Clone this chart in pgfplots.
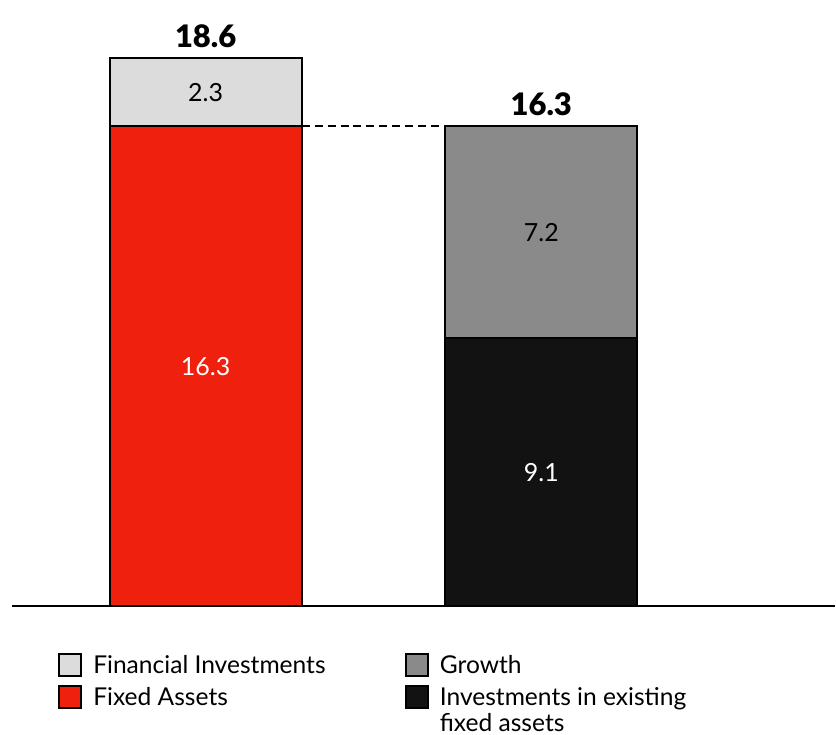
\documentclass[border=0pt]{standalone}
\usepackage{fontspec}
\setmainfont{Lato}
\newfontfamily\blackfont{Lato Black}
\usepackage{pgfplots}
\pgfplotsset{compat=1.18}
\definecolor{cred}{RGB}{240,32,14}
\definecolor{clgray}{RGB}{220,220,220}
\definecolor{cgray}{RGB}{138,138,138}
\definecolor{cblack}{RGB}{18,18,18}
\pgfplotsset{base/.style={
  scale only axis, width=412pt, height=303.5pt,
  xmin=-0.577, xmax=1.875, ymin=0, ymax=20.58,
  xtick=\empty, ytick=\empty, clip=false}}
\begin{document}
\begin{tikzpicture}
\begin{axis}[base,
  axis y line=none, axis x line=bottom,
  x axis line style={-, line width=1pt},
  ybar stacked, bar width=0.5714,
  legend columns=2,
  legend style={draw=none, fill=none, at={(rel axis cs:0.0558,-0.0766)}, anchor=north west,
    inner sep=0pt, font=\fontsize{12.3}{12.2}\selectfont,
    /tikz/every even column/.append style={column sep=4pt},
    /tikz/every odd column/.append style={column sep=4.5pt},
    row sep=3.5pt,
    nodes={inner sep=1pt},
    cells={anchor=base west, align=left}},
  legend image code/.code={\draw[#1, line width=1pt] (0pt,-1.3pt) rectangle (11pt,9.7pt);},
]
\addlegendimage{fill=clgray, draw=black}
\addlegendentry{\makebox[151pt][l]{Financial Investments}}
\addlegendimage{fill=cgray, draw=black}
\addlegendentry{Growth}
\addlegendimage{fill=cred, draw=black}
\addlegendentry{Fixed Assets}
\addlegendimage{fill=cblack, draw=black}
\addlegendentry{\begin{tabular}[t]{@{}l@{}}Investments in existing\\fixed assets\end{tabular}}

\addplot[fill=cred, draw=black, line width=1pt] coordinates {(0,16.3) (1,0)};
\addplot[fill=cblack, draw=black, line width=1pt] coordinates {(0,0) (1,9.1)};
\addplot[fill=clgray, draw=black, line width=1pt] coordinates {(0,2.3) (1,0)};
\addplot[fill=cgray, draw=black, line width=1pt] coordinates {(0,0) (1,7.2)};
\end{axis}
\begin{axis}[base, axis lines=none]
\addplot[sharp plot, no marks, draw=black, line width=1pt, dash pattern=on 4pt off 2.5pt] coordinates {(0.2857,16.3) (0.7143,16.3)};
\node[text=white, font=\fontsize{12.5}{14}\selectfont] at (axis cs:0,8.15) {16.3};
\node[text=black, font=\fontsize{12.5}{14}\selectfont] at (axis cs:0,17.45) {2.3};
\node[text=white, font=\fontsize{12.5}{14}\selectfont] at (axis cs:1,4.55) {9.1};
\node[text=black, font=\fontsize{12.5}{14}\selectfont] at (axis cs:1,12.7) {7.2};
\node[anchor=south, font=\blackfont\fontsize{15.5}{17}\selectfont, inner sep=0pt] at ([yshift=5pt]axis cs:0,18.6) {18.6};
\node[anchor=south, font=\blackfont\fontsize{15.5}{17}\selectfont, inner sep=0pt] at ([yshift=5pt]axis cs:1,16.3) {16.3};
\end{axis}
\path[use as bounding box] ([xshift=-6pt,yshift=-64pt]current axis.south west) rectangle (current axis.north east);
\end{tikzpicture}
\end{document}
